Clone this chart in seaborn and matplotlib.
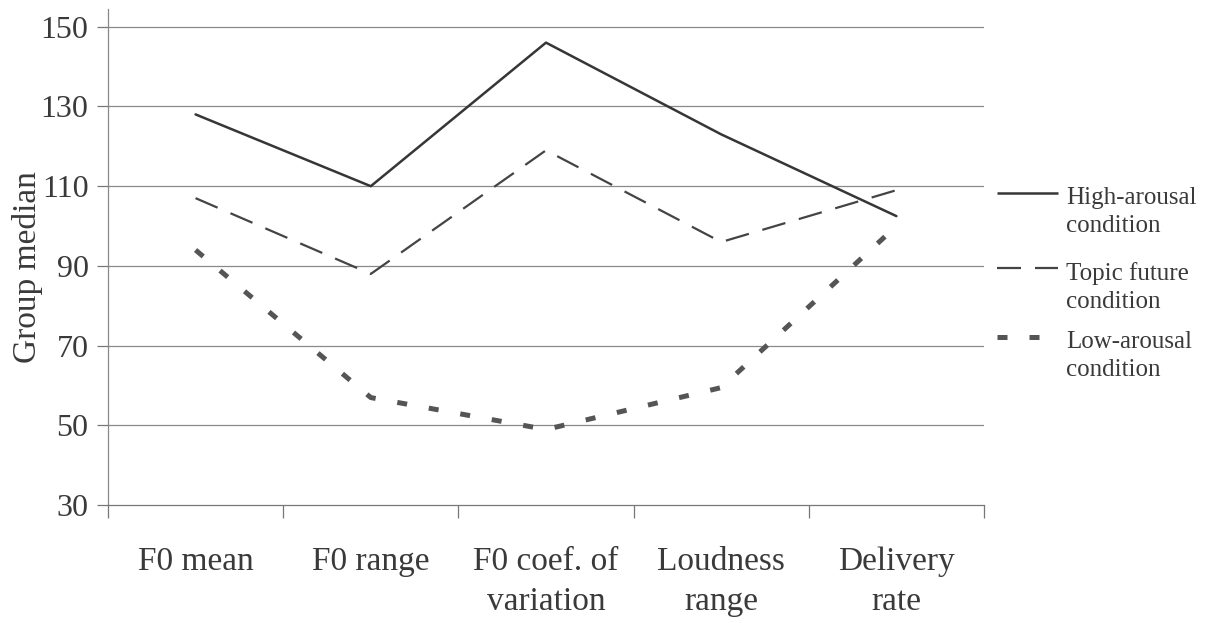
import matplotlib
matplotlib.use("Agg")
from matplotlib import pyplot as plt
from matplotlib.lines import Line2D
import seaborn as sns

# data
measures = ['F0 mean', 'F0 range', 'F0 coef. of\nvariation', 'Loudness\nrange', 'Delivery\nrate']
high_arousal = [128, 110, 146, 123, 102.5]
topic_future = [107, 88, 119, 96, 109]
low_arousal = [94, 57, 49, 59.5, 100]
series_names = ['High-arousal\ncondition', 'Topic future\ncondition', 'Low-arousal\ncondition']
y_ticks = [30, 50, 70, 90, 110, 130, 150]

sns.set_theme(style='white')
plt.rcParams['font.family'] = ['Liberation Serif', 'DejaVu Serif']
txt_color = '#3a3a3a'

fig = plt.figure(figsize=(12.05, 6.23), dpi=100)
ax = fig.add_axes([0.0896, 0.189, 0.727, 0.797])

xpos = list(range(len(measures)))
# line styles: colour, width (pt), dash pattern (None = solid)
styles = [
    ('#363636', 1.8, None),
    ('#444444', 1.6, (10.8, 6.3)),
    ('#555555', 3.6, (2.0, 4.4)),
]
for vals, (col, lw, dash) in zip([high_arousal, topic_future, low_arousal], styles):
    sns.lineplot(x=xpos, y=vals, ax=ax, color=col, linewidth=lw)
    if dash is not None:
        ax.lines[-1].set_dashes(dash)
    ax.lines[-1].set_dash_capstyle('butt')

# horizontal grid lines
for t in y_ticks[1:]:
    ax.axhline(t, color='#8a8a8a', linewidth=0.9, zorder=0)

ax.set_xlim(-0.5, len(measures) - 0.5)
ax.set_ylim(30, 154.5)
ax.set_yticks(y_ticks)
ax.set_yticklabels([str(t) for t in y_ticks], fontsize=23, color=txt_color)
ax.set_xticks([i - 0.5 for i in range(len(measures) + 1)])
ax.set_xticklabels([])
ax.set_xticks(xpos, minor=True)
ax.set_xticklabels(measures, minor=True, fontsize=24, color=txt_color, linespacing=1.4)
ax.tick_params(axis='x', which='minor', length=0, pad=30)
ax.tick_params(axis='x', which='major', length=9, width=0.9, color='#777777', direction='out', bottom=True)
ax.tick_params(axis='y', length=8, width=0.9, color='#777777', direction='out', left=True, pad=6)

for s in ['top', 'right']:
    ax.spines[s].set_visible(False)
ax.spines['left'].set_color('#888888')
ax.spines['bottom'].set_color('#777777')
ax.spines['left'].set_linewidth(0.9)
ax.spines['bottom'].set_linewidth(0.9)

ax.set_ylabel('Group median', fontsize=24, color=txt_color)
ax.yaxis.set_label_coords(-0.074, 0.48)
ax.set_xlabel('')

# legend drawn beside the plot, handle level with the first text line
row_top = [0.6998, 0.5795, 0.4687]
for name, (col, lw, dash), yt in zip(series_names, styles, row_top):
    fig.text(0.8846, yt, name, fontsize=18, color=txt_color, va='top', ha='left', linespacing=1.35)
    h = Line2D([0.8274, 0.878], [yt - 0.0096, yt - 0.0096], transform=fig.transFigure,
               color=col, linewidth=lw, solid_capstyle='butt', dash_capstyle='butt')
    if dash is not None:
        h.set_dashes(dash)
    fig.add_artist(h)

fig.savefig('out.png', dpi=100)
